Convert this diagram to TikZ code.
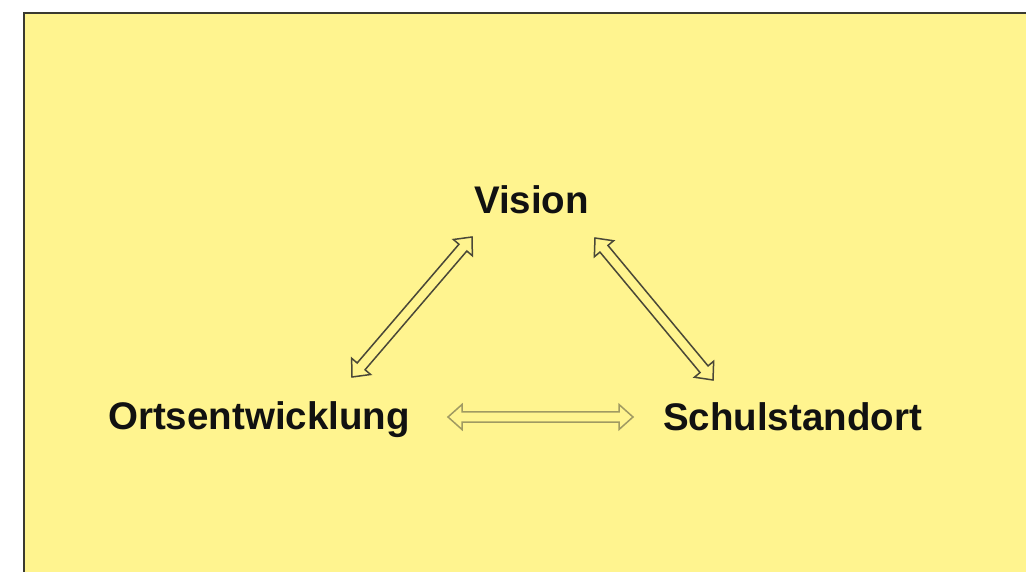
\documentclass[tikz,border=0pt]{standalone}
\usepackage{fontspec}
\setmainfont{Liberation Sans}
\usetikzlibrary{calc}
\definecolor{bgyellow}{HTML}{FFF48F}
\definecolor{framecol}{HTML}{3A3A30}
\definecolor{darkarrow}{HTML}{4A4838}
\definecolor{lightarrow}{HTML}{A09A62}
\definecolor{textcol}{HTML}{111111}
\tikzset{
  label/.style={font=\fontsize{38.5}{46}\selectfont\bfseries, text=textcol, anchor=base, inner sep=0pt},
  blockline/.style={line width=1.5pt, line join=miter, fill=bgyellow},
}
% \blockarr{style}{A}{B}: outlined double-headed block arrow from tip A to tip B
\newcommand\blockarr[3]{%
  \coordinate (#2-h) at ($(#2)!14pt!(#3)$);
  \coordinate (#3-h) at ($(#3)!14pt!(#2)$);
  \draw[blockline,#1] (#2)
    -- ($(#2-h)!12.5pt!90:(#3)$) -- ($(#2-h)!5.2pt!90:(#3)$)
    -- ($(#3-h)!5.2pt!-90:(#2)$) -- ($(#3-h)!12.5pt!-90:(#2)$)
    -- (#3)
    -- ($(#3-h)!12.5pt!90:(#2)$) -- ($(#3-h)!5.2pt!90:(#2)$)
    -- ($(#2-h)!5.2pt!-90:(#3)$) -- ($(#2-h)!12.5pt!-90:(#3)$)
    -- cycle;
}
\begin{document}
\begin{tikzpicture}[x=1pt,y=-1pt]
  \useasboundingbox (0,0) rectangle (1026,572);
  \fill[white] (0,0) rectangle (1026,572);
  \fill[bgyellow] (24,13) rectangle (1026,572);
  \draw[framecol, line width=1.3pt] (24,572) -- (24,13) -- (1026,13);

  \node[label] (vision) at (531.5,214) {Vision};
  \node[label] (orts) at (259,429.5) {Ortsentwicklung};
  \node[label] (schul) at (792.5,430) {Schulstandort};

  \coordinate (l1) at (352,377);
  \coordinate (l2) at (472,237);
  \coordinate (r1) at (595,238);
  \coordinate (r2) at (713,380);
  \coordinate (h1) at (448,417);
  \coordinate (h2) at (633,417);

  \blockarr{draw=darkarrow}{l1}{l2}
  \blockarr{draw=darkarrow}{r1}{r2}
  \blockarr{draw=lightarrow}{h1}{h2}
\end{tikzpicture}
\end{document}
